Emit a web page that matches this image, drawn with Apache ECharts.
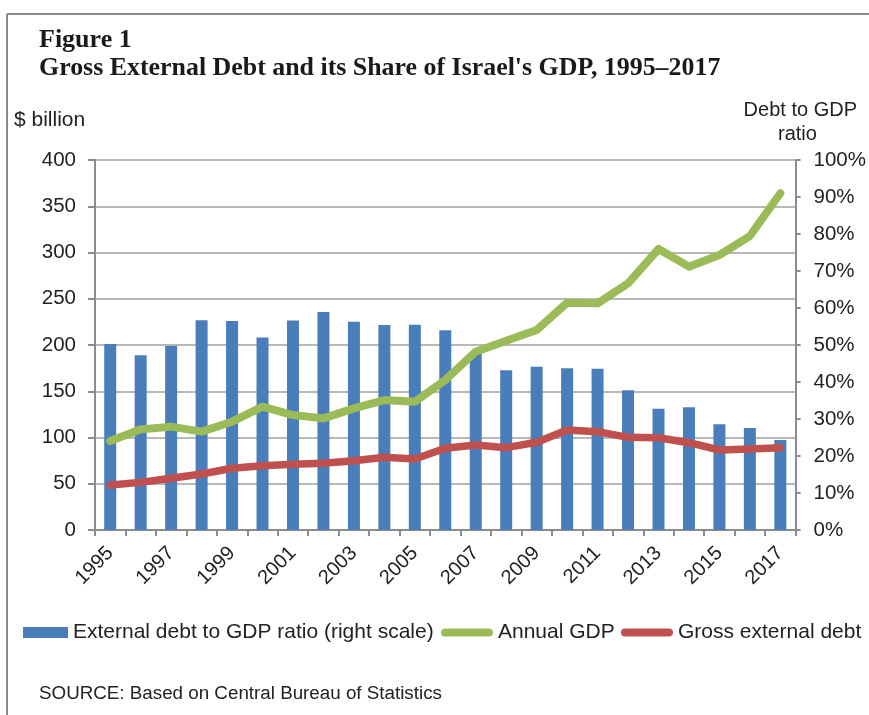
<!DOCTYPE html>
<html>
<head>
<meta charset="utf-8">
<script src="https://cdn.jsdelivr.net/npm/echarts@6/dist/echarts.min.js"></script>
<style>
html,body{margin:0;padding:0;background:#fff;}
#c{width:869px;height:715px;}
</style>
</head>
<body>
<div id="c"></div>
<script>
var years = ['1995','1996','1997','1998','1999','2000','2001','2002','2003','2004','2005','2006','2007','2008','2009','2010','2011','2012','2013','2014','2015','2016','2017'];
var debtRatio = [50.3,47.2,49.7,56.7,56.5,52.0,56.6,58.9,56.3,55.4,55.5,54.0,47.7,43.2,44.1,43.7,43.6,37.8,32.8,33.2,28.6,27.6,24.3];
var annualGDP = [96.2,108.8,111.7,106.3,117.1,133.3,124.3,120.7,131.5,140.5,138.7,162.2,192.8,204.7,216.2,245.7,245.0,266.7,303.8,284.7,297.3,317.8,364.0];
var grossDebt = [48.6,51.5,55.9,60.5,66.7,69.5,71.0,72.1,74.9,78.6,76.8,88.3,91.9,89.0,94.8,108.1,106.3,100.2,99.8,94.4,86.5,87.6,89.0];
var seriesNames = ['External debt to GDP ratio (right scale)','Annual GDP','Gross external debt'];

var chart = echarts.init(document.getElementById('c'));
var sans = 'Liberation Sans, Arial, sans-serif';
var txt = '#222';
var linePath = 'path://M4,0 L48,0 A4,4 0 0 1 48,8 L4,8 A4,4 0 0 1 4,0 Z';
chart.setOption({
  animation:false,
  backgroundColor:'#fff',
  grid:{left:95,right:73,top:160,bottom:185,containLabel:false},
  legend:[
    {data:[{name:seriesNames[0],icon:'rect'}],left:23,top:622,padding:0,itemWidth:45,itemHeight:11,
     textStyle:{fontFamily:sans,fontSize:21,color:txt},selectedMode:false},
    {data:[{name:seriesNames[1],icon:linePath}],left:441,top:622,padding:0,itemWidth:52,itemHeight:8,
     textStyle:{fontFamily:sans,fontSize:21,color:txt},selectedMode:false},
    {data:[{name:seriesNames[2],icon:linePath}],left:621,top:622,padding:0,itemWidth:52,itemHeight:8,
     textStyle:{fontFamily:sans,fontSize:21,color:txt},selectedMode:false}
  ],
  xAxis:{type:'category',data:years,boundaryGap:true,
    axisLine:{lineStyle:{color:'#8c8c8c',width:2}},
    axisTick:{show:true,interval:0,length:6,lineStyle:{color:'#8c8c8c',width:2}},
    axisLabel:{interval:1,rotate:45,margin:20,fontFamily:sans,fontSize:20,color:txt}
  },
  yAxis:[
    {type:'value',min:0,max:400,interval:50,
     axisLine:{show:true,lineStyle:{color:'#8c8c8c',width:2}},
     axisTick:{show:true,length:7,lineStyle:{color:'#8c8c8c',width:2}},
     axisLabel:{margin:19,fontFamily:sans,fontSize:20.5,color:txt},
     splitLine:{show:true,lineStyle:{color:'#a0a0a0',width:1.5}}},
    {type:'value',min:0,max:100,interval:10,position:'right',
     axisLine:{show:true,lineStyle:{color:'#8c8c8c',width:2}},
     axisTick:{show:true,length:5,lineStyle:{color:'#8c8c8c',width:2}},
     axisLabel:{margin:18,fontFamily:sans,fontSize:20.5,color:txt,formatter:'{value}%'},
     splitLine:{show:false}}
  ],
  series:[
    {name:seriesNames[0],type:'bar',yAxisIndex:1,data:debtRatio,barWidth:12,
     itemStyle:{color:'#4a7ebb'},z:2},
    {name:seriesNames[1],type:'line',yAxisIndex:0,data:annualGDP,showSymbol:false,symbol:'none',
     lineStyle:{color:'#9bbb59',width:8,cap:'round',join:'round'},itemStyle:{color:'#9bbb59'},z:4},
    {name:seriesNames[2],type:'line',yAxisIndex:0,data:grossDebt,showSymbol:false,symbol:'none',
     lineStyle:{color:'#c0504d',width:7.5,cap:'round',join:'round'},itemStyle:{color:'#c0504d'},z:3}
  ],
  graphic:[
    {type:'line',shape:{x1:7,y1:14,x2:869,y2:14},style:{stroke:'#8a8a8a',lineWidth:2},silent:true},
    {type:'line',shape:{x1:7,y1:14,x2:7,y2:715},style:{stroke:'#8a8a8a',lineWidth:2},silent:true},
    {type:'text',left:39,top:27,style:{text:'Figure 1',font:'bold 26px "Liberation Serif", "Times New Roman", serif',fill:'#1a1a1a'}},
    {type:'text',left:39,top:55,style:{text:'Gross External Debt and its Share of Israel\'s GDP, 1995\u20132017',font:'bold 25.9px "Liberation Serif", "Times New Roman", serif',fill:'#1a1a1a'}},
    {type:'text',left:14,top:110,style:{text:'$ billion',font:'21px "Liberation Sans", Arial, sans-serif',fill:txt}},
    {type:'text',right:12,top:100,style:{text:'Debt to GDP',font:'20px "Liberation Sans", Arial, sans-serif',fill:txt}},
    {type:'text',left:778,top:124,style:{text:'ratio',font:'20px "Liberation Sans", Arial, sans-serif',fill:txt}},
    {type:'text',left:39,top:684,style:{text:'SOURCE: Based on Central Bureau of Statistics',font:'18.8px "Liberation Sans", Arial, sans-serif',fill:txt}}
  ]
});
</script>
</body>
</html>
